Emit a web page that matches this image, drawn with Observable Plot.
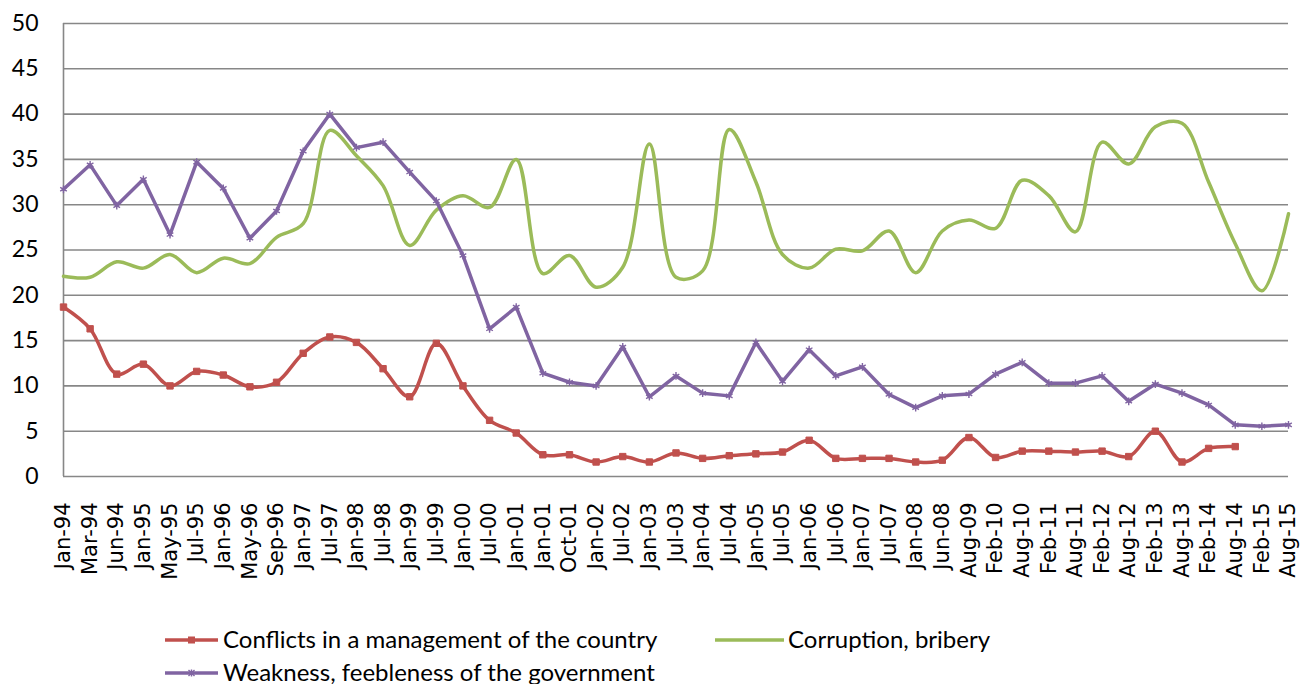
<!DOCTYPE html>
<html>
<head>
<meta charset="utf-8">
<script src="https://cdn.jsdelivr.net/npm/d3@7"></script>
<script src="https://cdn.jsdelivr.net/npm/@observablehq/plot@0.6"></script>
<style>
  html, body { margin: 0; padding: 0; background: #fff; }
  #wrap { position: relative; width: 1314px; height: 684px; overflow: hidden; }
  .leg { position: absolute; font-family: Lato, sans-serif; font-size: 24px; line-height: 24px; color: #000; white-space: nowrap; }
  .sw { position: absolute; }
</style>
</head>
<body>
<div id="wrap"></div>
<script>
const labels = ["Jan-94","Mar-94","Jun-94","Jan-95","May-95","Jul-95","Jan-96","May-96","Sep-96","Jan-97","Jul-97","Jan-98","Jul-98","Jan-99","Jul-99","Jan-00","Jul-00","Jan-01","Jan-01","Oct-01","Jan-02","Jul-02","Jan-03","Jul-03","Jan-04","Jul-04","Jan-05","Jul-05","Jan-06","Jul-06","Jan-07","Jul-07","Jan-08","Jun-08","Aug-09","Feb-10","Aug-10","Feb-11","Aug-11","Feb-12","Aug-12","Feb-13","Aug-13","Feb-14","Aug-14","Feb-15","Aug-15"];

const conflicts = [18.7,16.3,11.3,12.4,10.0,11.6,11.2,9.9,10.4,13.6,15.4,14.8,11.9,8.8,14.7,10.0,6.2,4.8,2.4,2.4,1.6,2.2,1.6,2.6,2.0,2.3,2.5,2.7,4.0,2.0,2.0,2.0,1.6,1.8,4.3,2.1,2.8,2.8,2.7,2.8,2.2,5.0,1.6,3.1,3.3,null,null];

const corruption = [22.1,22.0,23.7,23.0,24.5,22.5,24.1,23.5,26.4,27.9,38.2,35.4,32.1,25.5,29.4,31.0,29.7,35.0,22.4,24.4,20.9,23.1,36.7,22.0,22.7,38.3,32.5,24.5,23.0,25.1,24.9,27.1,22.5,27.1,28.3,27.4,32.7,31.0,27.0,36.9,34.5,38.6,39.0,32.5,25.7,20.5,29.0];

const weakness = [31.7,34.4,29.9,32.8,26.7,34.7,31.8,26.3,29.3,35.9,40.0,36.3,36.9,33.6,30.4,24.4,16.3,18.7,11.4,10.4,10.0,14.3,8.8,11.1,9.2,8.9,14.8,10.5,14.0,11.1,12.1,9.05,7.6,8.9,9.1,11.3,12.6,10.3,10.3,11.1,8.3,10.2,9.2,7.9,5.7,5.55,5.7];

const seriesNames = ["Conflicts in a management of the country", "Corruption, bribery", "Weakness, feebleness of the government"];
const seriesColors = ["#C0504D", "#9BBB59", "#8064A2"];
const yTicks = [0,5,10,15,20,25,30,35,40,45,50];

const idx = d3.range(labels.length);
const toRows = (vals) => idx.map(i => ({i, v: vals[i]})).filter(d => d.v != null);
const redRows = toRows(conflicts);
const greenRows = toRows(corruption);
const purpleRows = toRows(weakness);

const chart = Plot.plot({
  width: 1314,
  height: 600,
  marginLeft: 63,
  marginRight: 26,
  marginTop: 23,
  marginBottom: 124,
  style: {background: "#fff", color: "#000"},
  x: {type: "linear", domain: [0, labels.length - 1], label: null},
  y: {domain: [0, 50], label: null},
  marks: [
    Plot.ruleY(yTicks, {stroke: "#878787", strokeWidth: 1.6}),
    Plot.ruleX([0], {stroke: "#878787", strokeWidth: 1.6}),
    Plot.axisY({ticks: yTicks, tickSize: 0, tickPadding: 25, fontSize: 23, fontFamily: "Lato", label: null}),
    Plot.axisX({ticks: idx, tickRotate: -90, tickSize: 0, tickPadding: 26, fontSize: 21, fontFamily: "DejaVu Sans", label: null, tickFormat: i => labels[i]}),
    Plot.line(redRows, {x: "i", y: "v", stroke: seriesColors[0], strokeWidth: 3.5, curve: "catmull-rom"}),
    Plot.dot(redRows, {x: "i", y: "v", symbol: "square", r: 3.6, fill: seriesColors[0], stroke: seriesColors[0], strokeWidth: 1}),
    Plot.line(greenRows, {x: "i", y: "v", stroke: seriesColors[1], strokeWidth: 3.5, curve: "catmull-rom"}),
    Plot.line(purpleRows, {x: "i", y: "v", stroke: seriesColors[2], strokeWidth: 3.5}),
    Plot.dot(purpleRows, {x: "i", y: "v", symbol: "asterisk", r: 3.6, stroke: seriesColors[2], strokeWidth: 1.4})
  ]
});

const wrap = document.getElementById("wrap");
chart.style.position = "absolute";
chart.style.left = "0px";
chart.style.top = "0px";
wrap.appendChild(chart);

// Legend (HTML, below the SVG)
const legendItems = [
  {k: 0, sx: 165, sw: 53, cy: 640, tx: 223, marker: "square"},
  {k: 1, sx: 715, sw: 69, cy: 640, tx: 788, marker: null},
  {k: 2, sx: 165, sw: 53, cy: 673, tx: 223, marker: "star"}
];
for (const it of legendItems) {
  const c = seriesColors[it.k];
  const svgNS = "http://www.w3.org/2000/svg";
  const s = document.createElementNS(svgNS, "svg");
  s.setAttribute("width", it.sw);
  s.setAttribute("height", 14);
  s.setAttribute("class", "sw");
  s.style.left = it.sx + "px";
  s.style.top = (it.cy - 7) + "px";
  const ln = document.createElementNS(svgNS, "line");
  ln.setAttribute("x1", 0); ln.setAttribute("x2", it.sw);
  ln.setAttribute("y1", 7); ln.setAttribute("y2", 7);
  ln.setAttribute("stroke", c); ln.setAttribute("stroke-width", 3.5);
  s.appendChild(ln);
  const mx = it.sw / 2;
  if (it.marker === "square") {
    const r = document.createElementNS(svgNS, "rect");
    r.setAttribute("x", mx - 3.5); r.setAttribute("y", 3.5);
    r.setAttribute("width", 7); r.setAttribute("height", 7);
    r.setAttribute("fill", c);
    s.appendChild(r);
  } else if (it.marker === "star") {
    const p = document.createElementNS(svgNS, "path");
    p.setAttribute("d", `M${mx-3},4L${mx+3},10M${mx+3},4L${mx-3},10M${mx},3.5L${mx},10.5`);
    p.setAttribute("stroke", c); p.setAttribute("stroke-width", 1.4);
    s.appendChild(p);
  }
  wrap.appendChild(s);
  const t = document.createElement("div");
  t.className = "leg";
  t.textContent = seriesNames[it.k];
  t.style.left = it.tx + "px";
  t.style.top = (it.cy - 13) + "px";
  wrap.appendChild(t);
}
</script>
</body>
</html>
